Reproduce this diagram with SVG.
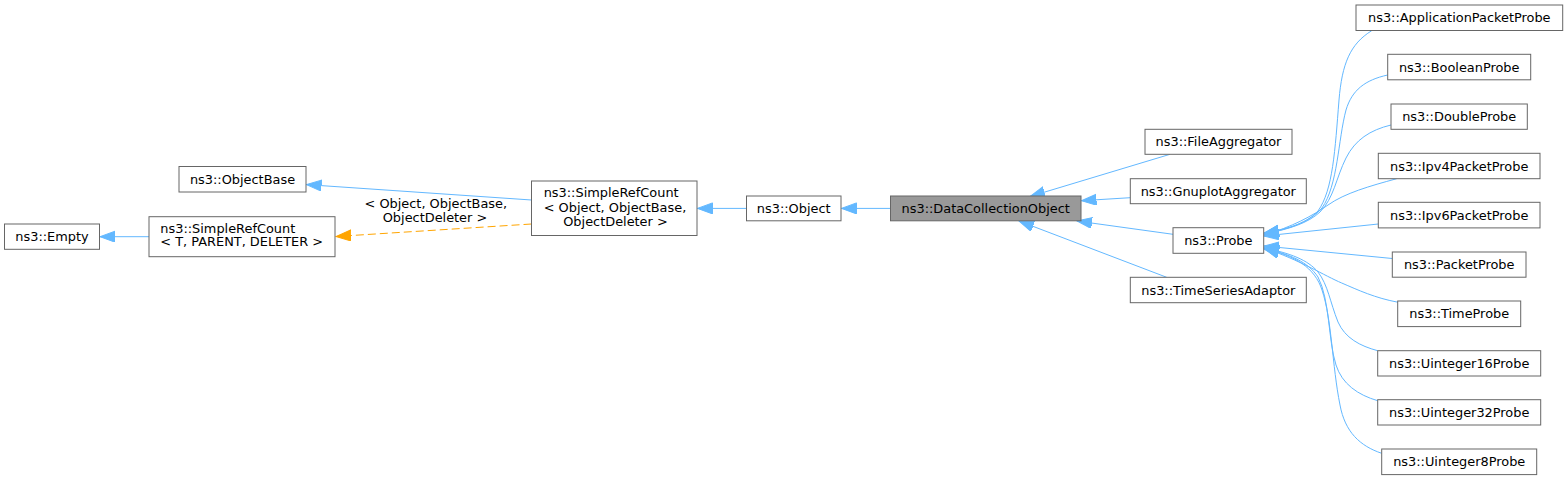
<svg xmlns="http://www.w3.org/2000/svg" width="1568" height="480" viewBox="0 0 1568 480">
<style>
.n rect{fill:#ffffff;stroke:#666666;stroke-width:1}
.n.cur rect{fill:#999999}
text{font-family:"DejaVu Sans","Liberation Sans",sans-serif;font-size:12.9px;fill:#000000}
.c{text-anchor:middle}
.e path{fill:none;stroke:#63b8ff;stroke-width:1}
.e path.tpl{stroke:#ffa500;stroke-dasharray:8,4}
</style>
<defs>
<marker id="ab" markerUnits="userSpaceOnUse" markerWidth="16" markerHeight="12" refX="15" refY="5.5" orient="auto"><path d="M0,0 L15,5.5 L0,11 z" fill="#63b8ff" stroke="#63b8ff" stroke-width="1"/></marker>
<marker id="ao" markerUnits="userSpaceOnUse" markerWidth="16" markerHeight="12" refX="15" refY="5.5" orient="auto"><path d="M0,0 L15,5.5 L0,11 z" fill="#ffa500" stroke="#ffa500" stroke-width="1"/></marker>
</defs>
<rect width="1568" height="480" fill="#ffffff"/>
<g id="connectors" class="e">
<path d="M149,236.7 L100,236.7" marker-end="url(#ab)"/>
<path d="M531.5,200 L306.5,184.6" marker-end="url(#ab)"/>
<path class="tpl" d="M531.5,224 L336,236.5" marker-end="url(#ao)"/>
<path d="M746.5,208.4 L697.5,208.4" marker-end="url(#ab)"/>
<path d="M890.5,208.4 L841.5,208.4" marker-end="url(#ab)"/>
<path d="M1170,154.3 L1030,196.5" marker-end="url(#ab)"/>
<path d="M1130.3,197.7 L1081.5,200.7" marker-end="url(#ab)"/>
<path d="M1173,234.3 L1077,221" marker-end="url(#ab)"/>
<path d="M1166.7,277.3 L1019,221" marker-end="url(#ab)"/>
<path d="M1371.7,30.7 C1350,44 1342,64 1339,100 C1335,150 1333,190 1318,211 C1308,222 1290,229 1264,233" marker-end="url(#ab)"/>
<path d="M1387.7,75 C1365,80 1352,90 1346,110 C1338,140 1338,185 1322,208 C1310,222 1290,229 1264,233.5" marker-end="url(#ab)"/>
<path d="M1391,125 C1370,130 1355,140 1346,158 C1336,178 1334,198 1320,212 C1308,223 1290,229 1264,234" marker-end="url(#ab)"/>
<path d="M1396.7,178.7 C1370,186 1345,193 1328,205 C1312,216 1292,227 1264,235" marker-end="url(#ab)"/>
<path d="M1378.3,224 L1264,236" marker-end="url(#ab)"/>
<path d="M1392.3,258.5 L1264,246" marker-end="url(#ab)"/>
<path d="M1398.3,302.3 C1375,298 1358,290 1341.7,283 C1325,276 1300,260 1264,248" marker-end="url(#ab)"/>
<path d="M1377.7,350.7 C1360,346 1345,338 1338,322 C1330,302 1328,285 1318,272 C1308,260 1290,253 1264,248" marker-end="url(#ab)"/>
<path d="M1377.7,400.7 C1358,395 1342,384 1336,365 C1328,340 1330,300 1318,277 C1308,262 1290,254 1264,248.5" marker-end="url(#ab)"/>
<path d="M1381.7,453.3 C1360,446 1345,432 1340,405 C1332,365 1332,320 1322,290 C1315,268 1295,255 1264,249" marker-end="url(#ab)"/>
<text class="c" x="435.8" y="207.7">&lt; Object, ObjectBase,</text>
<text class="c" x="435" y="222.3">ObjectDeleter &gt;</text>
</g>
<g id="n_empty" class="n"><rect x="4.5" y="224" width="95" height="25.3"/><text class="c" x="52" y="241.2">ns3::Empty</text></g>
<g id="n_src_t" class="n"><rect x="149" y="216.7" width="186" height="40"/><text x="160.3" y="232.7">ns3::SimpleRefCount</text><text x="160.3" y="246.2">&lt; T, PARENT, DELETER &gt;</text></g>
<g id="n_objectbase" class="n"><rect x="179" y="166.5" width="127" height="25.5"/><text class="c" x="242.5" y="183.8">ns3::ObjectBase</text></g>
<g id="n_src_obj" class="n"><rect x="531.5" y="181" width="165.5" height="54.5"/><text x="543.7" y="196.7">ns3::SimpleRefCount</text><text x="543.7" y="211.5">&lt; Object, ObjectBase,</text><text class="c" x="615.5" y="226.2">ObjectDeleter &gt;</text></g>
<g id="n_object" class="n"><rect x="746.5" y="196" width="94.5" height="24.8"/><text class="c" x="793.7" y="212.8">ns3::Object</text></g>
<g id="n_dco" class="n cur"><rect x="890.5" y="196" width="190.5" height="24.8"/><text class="c" x="985.7" y="212.8">ns3::DataCollectionObject</text></g>
<g id="n_fileagg" class="n"><rect x="1145" y="129.3" width="147" height="25"/><text class="c" x="1218.5" y="146.3">ns3::FileAggregator</text></g>
<g id="n_gnuplot" class="n"><rect x="1130.3" y="178.7" width="176" height="25"/><text class="c" x="1218.3" y="195.7">ns3::GnuplotAggregator</text></g>
<g id="n_probe" class="n"><rect x="1173" y="227.7" width="90.7" height="25.6"/><text class="c" x="1218.3" y="245">ns3::Probe</text></g>
<g id="n_tsa" class="n"><rect x="1130.3" y="277.3" width="176" height="25.4"/><text class="c" x="1218.3" y="294.5">ns3::TimeSeriesAdaptor</text></g>
<g id="n_app" class="n"><rect x="1356" y="5" width="206.7" height="25.5"/><text class="c" x="1459.3" y="22.2">ns3::ApplicationPacketProbe</text></g>
<g id="n_bool" class="n"><rect x="1387.7" y="54.3" width="143" height="25.5"/><text class="c" x="1459.2" y="71.5">ns3::BooleanProbe</text></g>
<g id="n_double" class="n"><rect x="1391" y="104" width="136.3" height="25.3"/><text class="c" x="1459.2" y="121.1">ns3::DoubleProbe</text></g>
<g id="n_ipv4" class="n"><rect x="1378.3" y="153.3" width="161.7" height="25.4"/><text class="c" x="1459.2" y="170.5">ns3::Ipv4PacketProbe</text></g>
<g id="n_ipv6" class="n"><rect x="1378.3" y="202.3" width="161.7" height="25.6"/><text class="c" x="1459.2" y="219.6">ns3::Ipv6PacketProbe</text></g>
<g id="n_packet" class="n"><rect x="1392.3" y="252" width="133.7" height="25.2"/><text class="c" x="1459.2" y="269.1">ns3::PacketProbe</text></g>
<g id="n_time" class="n"><rect x="1397.7" y="301" width="123" height="25.6"/><text class="c" x="1459.2" y="318.3">ns3::TimeProbe</text></g>
<g id="n_u16" class="n"><rect x="1377.7" y="350.7" width="163" height="25.3"/><text class="c" x="1459.2" y="367.8">ns3::Uinteger16Probe</text></g>
<g id="n_u32" class="n"><rect x="1377.7" y="399.7" width="163" height="25.3"/><text class="c" x="1459.2" y="416.8">ns3::Uinteger32Probe</text></g>
<g id="n_u8" class="n"><rect x="1381.7" y="449" width="155" height="25.6"/><text class="c" x="1459.2" y="466.3">ns3::Uinteger8Probe</text></g>
</svg>
